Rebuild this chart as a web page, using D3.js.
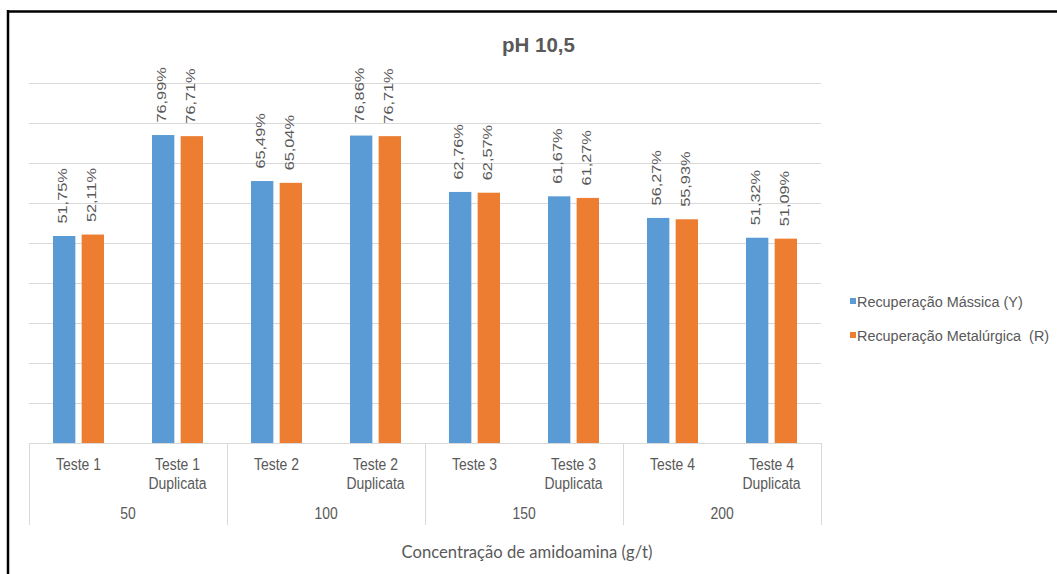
<!DOCTYPE html>
<html>
<head>
<meta charset="utf-8">
<script src="https://cdn.jsdelivr.net/npm/d3@7"></script>
<style>
  html, body { margin: 0; padding: 0; background: #fff; }
  svg { display: block; }
</style>
</head>
<body>
<svg id="chart" width="1057" height="574"></svg>
<script>
// Test names (two lines each) and their amidoamine dosage groups
const tests = [
  ["Teste 1"], ["Teste 1", "Duplicata"],
  ["Teste 2"], ["Teste 2", "Duplicata"],
  ["Teste 3"], ["Teste 3", "Duplicata"],
  ["Teste 4"], ["Teste 4", "Duplicata"]
];
const dosages = ["50", "100", "150", "200"];

// Recovery values, in percent
const massRecovery = [51.75, 76.99, 65.49, 76.86, 62.76, 61.67, 56.27, 51.32];
const metalRecovery = [52.11, 76.71, 65.04, 76.71, 62.57, 61.27, 55.93, 51.09];

const seriesNames = ["Recuperação Mássica (Y)", "Recuperação Metalúrgica \u00a0(R)"];
const seriesColors = ["#5b9bd5", "#ed7d31"];
const yTicks = [0, 10, 20, 30, 40, 50, 60, 70, 80, 90];

const svg = d3.select("#chart");
const plotLeft = 29, plotRight = 821, plotTop = 43, plotBottom = 443;
const sans = "Liberation Sans, Arial, sans-serif";
const textGrey = "#595959";
const squeeze = 0.82; // condensed look of the chart text

// Frame lines (top and left edges)
svg.append("line").attr("x1", 7).attr("x2", 1057).attr("y1", 11.5).attr("y2", 11.5)
  .attr("stroke", "#000").attr("stroke-width", 2.5);
svg.append("line").attr("x1", 8).attr("x2", 8).attr("y1", 10).attr("y2", 574)
  .attr("stroke", "#000").attr("stroke-width", 2.5);

const x = d3.scaleBand().domain(d3.range(tests.length)).range([plotLeft, plotRight]);
const y = d3.scaleLinear().domain([0, 100]).range([plotBottom, plotTop]);
const xSeries = d3.scaleBand().domain([0, 1]).range([24, 75]).paddingInner(0.22);

// Horizontal gridlines
svg.append("g").selectAll("line").data(yTicks.slice(1)).join("line")
  .attr("x1", plotLeft).attr("x2", plotRight)
  .attr("y1", d => Math.round(y(d)) + 0.5).attr("y2", d => Math.round(y(d)) + 0.5)
  .attr("stroke", "#d9d9d9").attr("stroke-width", 1);

// Bars and rotated value labels
const labelSize = 16.3;
const series = [massRecovery, metalRecovery];
series.forEach((vals, si) => {
  const g = svg.append("g");
  g.selectAll("rect").data(vals).join("rect")
    .attr("x", (d, i) => x(i) + xSeries(si))
    .attr("width", xSeries.bandwidth())
    .attr("y", d => y(d))
    .attr("height", d => y(0) - y(d))
    .attr("fill", seriesColors[si]);
  g.selectAll("text").data(vals).join("text")
    .attr("transform", (d, i) => {
      const cx = x(i) + xSeries(si) + xSeries.bandwidth() / 2 - 1.5 + labelSize * 0.716 * 0.8 / 2;
      return `translate(${cx},${y(d) - 12.5}) scale(0.8,1) rotate(-90)`;
    })
    .attr("font-family", sans)
    .attr("font-size", labelSize)
    .attr("fill", textGrey)
    .text(d => d.toFixed(2).replace(".", ",") + "%");
});

// Category axis: baseline, group dividers and labels
svg.append("line").attr("x1", plotLeft).attr("x2", plotRight)
  .attr("y1", plotBottom + 0.5).attr("y2", plotBottom + 0.5)
  .attr("stroke", "#d9d9d9");
const groupX = d3.scaleBand().domain(dosages).range([plotLeft, plotRight]);
svg.append("g").selectAll("line").data(d3.range(dosages.length + 1)).join("line")
  .attr("x1", d => Math.round(plotLeft + d * groupX.bandwidth()) + 0.5)
  .attr("x2", d => Math.round(plotLeft + d * groupX.bandwidth()) + 0.5)
  .attr("y1", plotBottom).attr("y2", 525)
  .attr("stroke", "#d9d9d9");

const catLabels = svg.append("g").attr("font-family", sans)
  .attr("font-size", 17).attr("fill", textGrey).attr("text-anchor", "middle");
catLabels.selectAll("text").data(tests).join("text")
  .attr("transform", (d, i) => `translate(${x(i) + x.bandwidth() / 2},470) scale(${squeeze},1)`)
  .each(function(lines) {
    d3.select(this).selectAll("tspan").data(lines).join("tspan")
      .attr("x", 0)
      .attr("dy", (d, j) => j === 0 ? 0 : 19)
      .text(d => d);
  });

svg.append("g").attr("font-family", sans)
  .attr("font-size", 17).attr("fill", textGrey).attr("text-anchor", "middle")
  .selectAll("text").data(dosages).join("text")
  .attr("transform", d => `translate(${groupX(d) + groupX.bandwidth() / 2},519) scale(${squeeze},1)`)
  .text(d => d);

// Axis title, fitted to its span under the plot
const axisTitle = svg.append("text")
  .attr("text-anchor", "middle")
  .attr("font-family", "Lato, Open Sans, sans-serif").attr("font-size", 18)
  .attr("fill", textGrey).text("Concentração de amidoamina (g/t)");
const titleLen = axisTitle.node().getComputedTextLength();
axisTitle.attr("transform", `translate(527,558) scale(${251 / titleLen},1)`);

// Chart title
svg.append("text").attr("x", 538.5).attr("y", 52.3).attr("text-anchor", "middle")
  .attr("font-family", sans).attr("font-weight", "bold")
  .attr("font-size", 20.5).attr("fill", textGrey).text("pH 10,5");

// Legend
const legend = svg.append("g").attr("font-family", sans)
  .attr("font-size", 15.5).attr("fill", textGrey);
seriesNames.forEach((name, i) => {
  const ly = 301 + i * 34;
  legend.append("rect").attr("x", 850).attr("y", ly - 3).attr("width", 6).attr("height", 6)
    .attr("fill", seriesColors[i]);
  legend.append("text").attr("transform", `translate(857,${ly + 5.5}) scale(0.93,1)`).text(name);
});
</script>
</body>
</html>
